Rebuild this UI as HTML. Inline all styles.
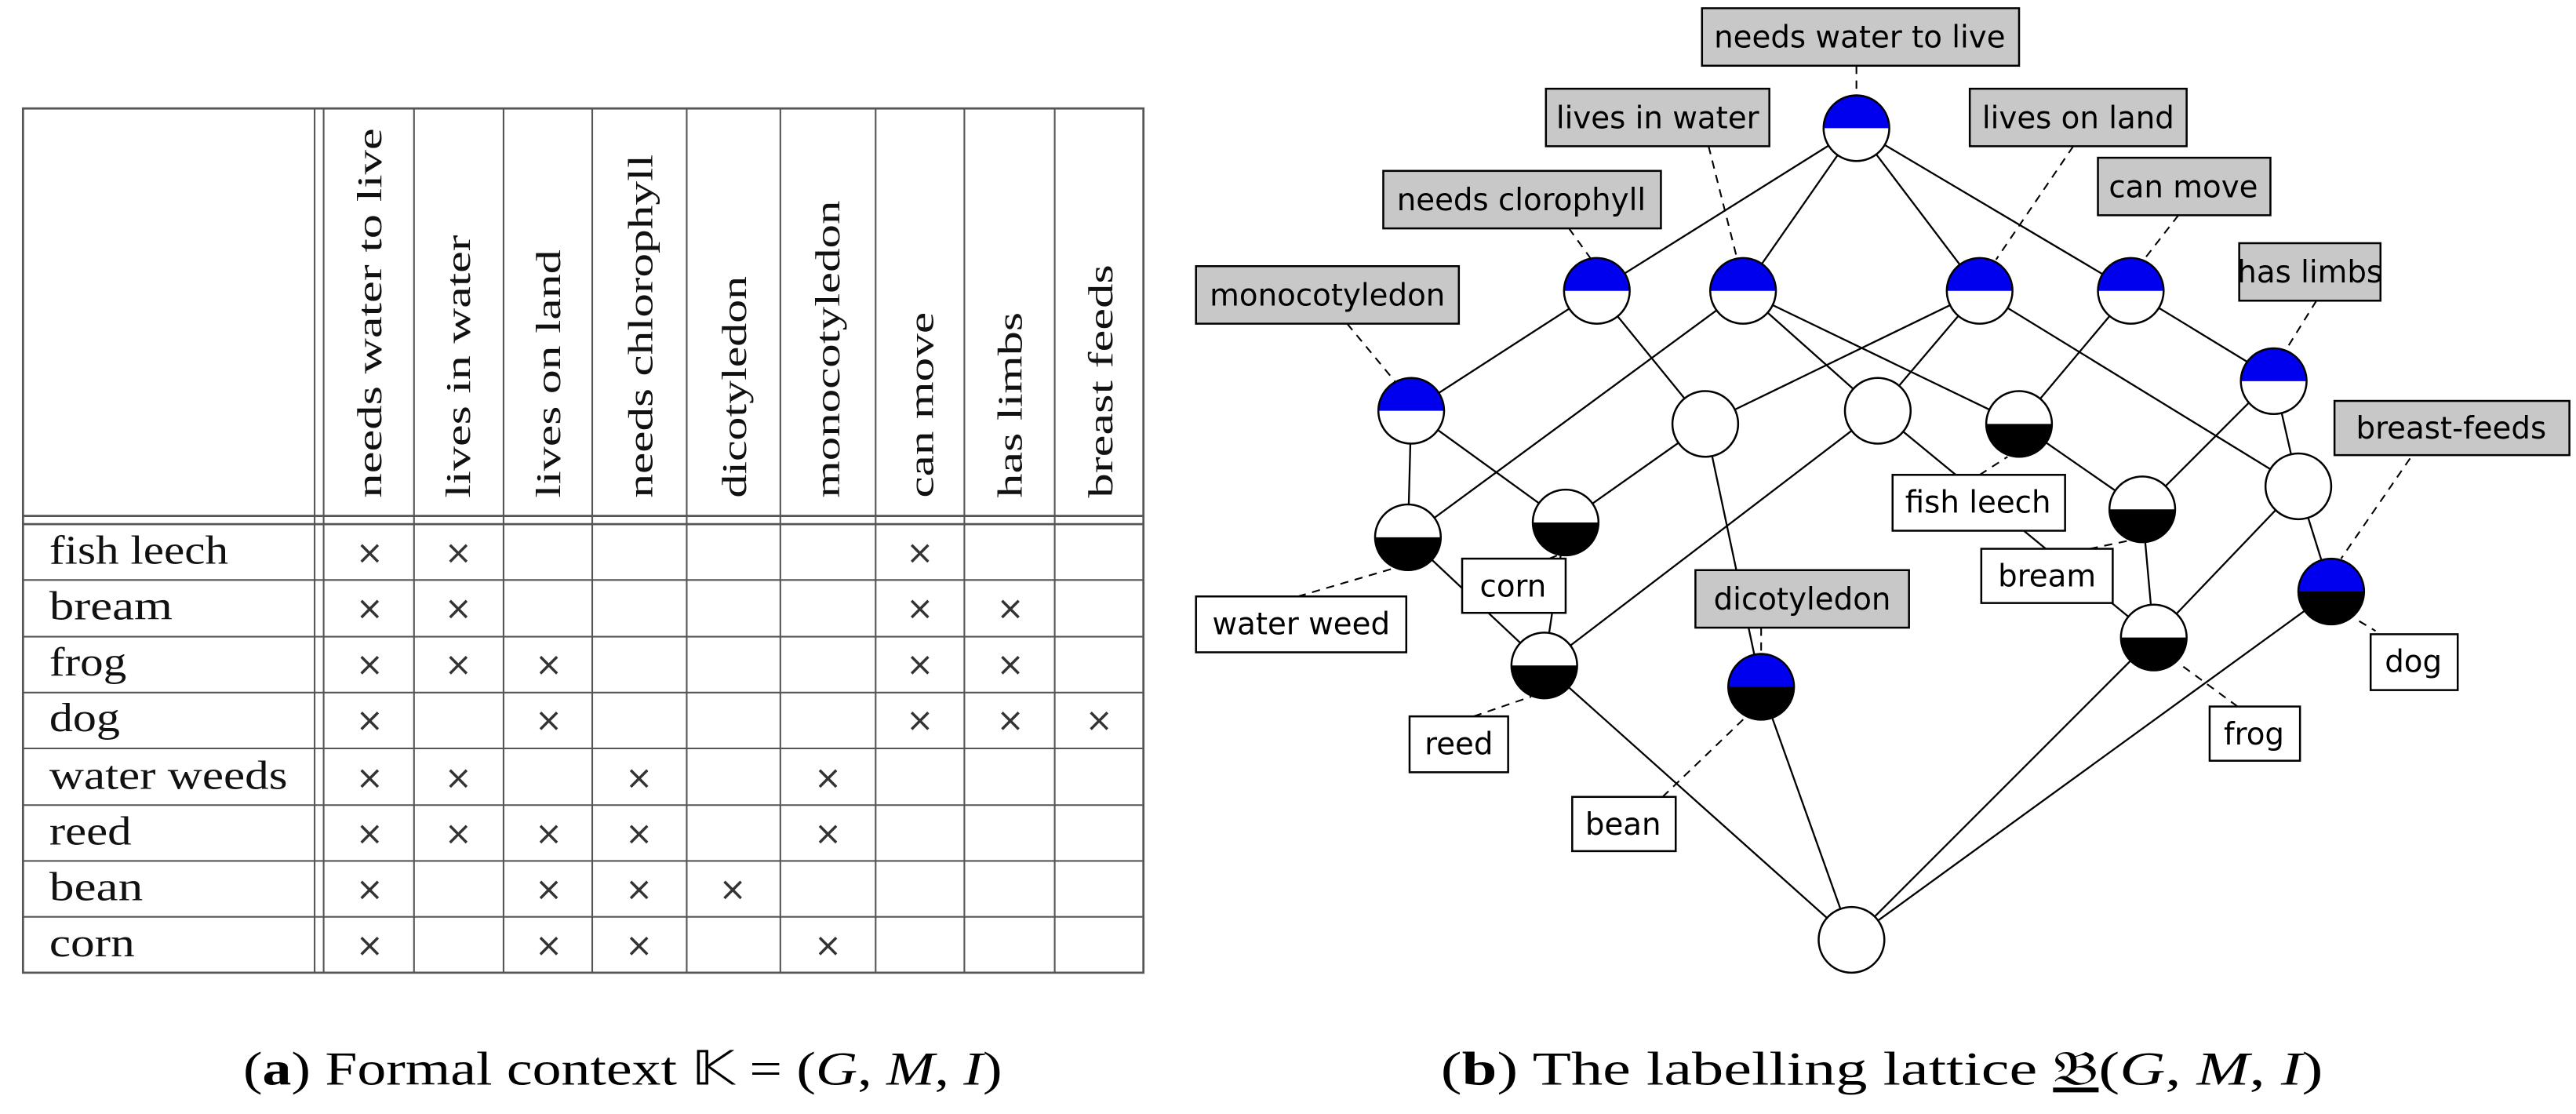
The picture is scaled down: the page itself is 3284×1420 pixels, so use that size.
<!DOCTYPE html>
<html><head><meta charset="utf-8"><style>
html,body{margin:0;padding:0;background:#fff;}
svg{display:block;}
.h{font-family:"Liberation Serif",serif;font-size:21px;fill:#111;}
.r{font-family:"Liberation Serif",serif;font-size:25px;fill:#111;}
.x{font-family:"DejaVu Sans",sans-serif;font-size:20px;fill:#333;text-anchor:middle;}
.l{font-family:"DejaVu Sans","Liberation Sans",sans-serif;font-size:18.5px;fill:#000;text-anchor:middle;}
.c{font-family:"Liberation Serif",serif;font-size:29px;fill:#000;}
</style></head><body>
<svg width="3284" height="1420" viewBox="0 0 1568 678" xmlns="http://www.w3.org/2000/svg">
<rect width="1568" height="678" fill="#fff"/>
<!-- table -->
<g stroke="#555" stroke-width="1" fill="none">
<rect x="14" y="66" width="682" height="526" stroke-width="1.3"/>
<line x1="14" y1="314" x2="696" y2="314" stroke-width="1.3"/>
<line x1="14" y1="319" x2="696" y2="319" stroke-width="1.3"/>
<line x1="191.5" y1="66" x2="191.5" y2="592"/>
<line x1="197" y1="66" x2="197" y2="592"/>
<line x1="252" y1="66" x2="252" y2="592"/>
<line x1="306.5" y1="66" x2="306.5" y2="592"/>
<line x1="360.5" y1="66" x2="360.5" y2="592"/>
<line x1="418" y1="66" x2="418" y2="592"/>
<line x1="475" y1="66" x2="475" y2="592"/>
<line x1="533" y1="66" x2="533" y2="592"/>
<line x1="587" y1="66" x2="587" y2="592"/>
<line x1="642" y1="66" x2="642" y2="592"/>
<line x1="14" y1="353" x2="696" y2="353"/>
<line x1="14" y1="387.5" x2="696" y2="387.5"/>
<line x1="14" y1="421.5" x2="696" y2="421.5"/>
<line x1="14" y1="455.5" x2="696" y2="455.5"/>
<line x1="14" y1="490" x2="696" y2="490"/>
<line x1="14" y1="524" x2="696" y2="524"/>
<line x1="14" y1="558" x2="696" y2="558"/>
</g>
<g class="h">
<text transform="translate(232,303) rotate(-90)" textLength="225" lengthAdjust="spacingAndGlyphs">needs water to live</text>
<text transform="translate(286,303) rotate(-90)" textLength="160" lengthAdjust="spacingAndGlyphs">lives in water</text>
<text transform="translate(341,303) rotate(-90)" textLength="151" lengthAdjust="spacingAndGlyphs">lives on land</text>
<text transform="translate(397,303) rotate(-90)" textLength="209" lengthAdjust="spacingAndGlyphs">needs chlorophyll</text>
<text transform="translate(454,303) rotate(-90)" textLength="135" lengthAdjust="spacingAndGlyphs">dicotyledon</text>
<text transform="translate(511,303) rotate(-90)" textLength="181" lengthAdjust="spacingAndGlyphs">monocotyledon</text>
<text transform="translate(568,303) rotate(-90)" textLength="113" lengthAdjust="spacingAndGlyphs">can move</text>
<text transform="translate(622,303) rotate(-90)" textLength="113" lengthAdjust="spacingAndGlyphs">has limbs</text>
<text transform="translate(677,303) rotate(-90)" textLength="142" lengthAdjust="spacingAndGlyphs">breast feeds</text>
</g>
<g class="r">
<text x="30" y="343" textLength="109" lengthAdjust="spacingAndGlyphs">fish leech</text>
<text x="30" y="377" textLength="75" lengthAdjust="spacingAndGlyphs">bream</text>
<text x="30" y="411" textLength="47" lengthAdjust="spacingAndGlyphs">frog</text>
<text x="30" y="445" textLength="43" lengthAdjust="spacingAndGlyphs">dog</text>
<text x="30" y="480" textLength="145" lengthAdjust="spacingAndGlyphs">water weeds</text>
<text x="30" y="514" textLength="50" lengthAdjust="spacingAndGlyphs">reed</text>
<text x="30" y="548" textLength="57" lengthAdjust="spacingAndGlyphs">bean</text>
<text x="30" y="582" textLength="52" lengthAdjust="spacingAndGlyphs">corn</text>
</g>
<g class="x">
<text x="225" y="343">×</text><text x="279" y="343">×</text><text x="560" y="343">×</text>
<text x="225" y="377">×</text><text x="279" y="377">×</text><text x="560" y="377">×</text><text x="615" y="377">×</text>
<text x="225" y="411">×</text><text x="279" y="411">×</text><text x="334" y="411">×</text><text x="560" y="411">×</text><text x="615" y="411">×</text>
<text x="225" y="445">×</text><text x="334" y="445">×</text><text x="560" y="445">×</text><text x="615" y="445">×</text><text x="669" y="445">×</text>
<text x="225" y="480">×</text><text x="279" y="480">×</text><text x="389" y="480">×</text><text x="504" y="480">×</text>
<text x="225" y="514">×</text><text x="279" y="514">×</text><text x="334" y="514">×</text><text x="389" y="514">×</text><text x="504" y="514">×</text>
<text x="225" y="548">×</text><text x="334" y="548">×</text><text x="389" y="548">×</text><text x="446" y="548">×</text>
<text x="225" y="582">×</text><text x="334" y="582">×</text><text x="389" y="582">×</text><text x="504" y="582">×</text>
</g>
<!-- captions -->
<text class="c" x="148" y="660" textLength="462" lengthAdjust="spacingAndGlyphs">(<tspan font-weight="bold">a</tspan>) Formal context 𝕂 = (<tspan font-style="italic">G</tspan>, <tspan font-style="italic">M</tspan>, <tspan font-style="italic">I</tspan>)</text>
<text class="c" x="877" y="660" textLength="537" lengthAdjust="spacingAndGlyphs">(<tspan font-weight="bold">b</tspan>) The labelling lattice <tspan text-decoration="underline">𝔅</tspan>(<tspan font-style="italic">G</tspan>, <tspan font-style="italic">M</tspan>, <tspan font-style="italic">I</tspan>)</text>
<!-- lattice edges -->
<g stroke="#000" stroke-width="1.1">
<line x1="1130" y1="78" x2="972" y2="177"/><line x1="1130" y1="78" x2="1061" y2="177"/>
<line x1="1130" y1="78" x2="1205" y2="177"/><line x1="1130" y1="78" x2="1297" y2="177"/>
<line x1="972" y1="177" x2="859" y2="250"/><line x1="972" y1="177" x2="1038" y2="258"/>
<line x1="1061" y1="177" x2="857" y2="327"/><line x1="1061" y1="177" x2="1143" y2="250"/><line x1="1061" y1="177" x2="1229" y2="258"/>
<line x1="1205" y1="177" x2="1038" y2="258"/><line x1="1205" y1="177" x2="1143" y2="250"/><line x1="1205" y1="177" x2="1399" y2="296"/>
<line x1="1297" y1="177" x2="1229" y2="258"/><line x1="1297" y1="177" x2="1384" y2="230"/>
<line x1="859" y1="250" x2="857" y2="327"/><line x1="859" y1="250" x2="953" y2="318"/>
<line x1="1038" y1="258" x2="953" y2="318"/><line x1="1038" y1="258" x2="1072" y2="418"/>
<line x1="1143" y1="250" x2="940" y2="405"/><line x1="1143" y1="250" x2="1311" y2="388"/>
<line x1="1229" y1="258" x2="1304" y2="310"/>
<line x1="1384" y1="230" x2="1304" y2="310"/><line x1="1384" y1="230" x2="1399" y2="296"/>
<line x1="857" y1="327" x2="940" y2="405"/><line x1="953" y1="318" x2="940" y2="405"/>
<line x1="1304" y1="310" x2="1311" y2="388"/>
<line x1="1399" y1="296" x2="1311" y2="388"/><line x1="1399" y1="296" x2="1419" y2="360"/>
<line x1="940" y1="405" x2="1127" y2="572"/><line x1="1072" y1="418" x2="1127" y2="572"/>
<line x1="1311" y1="388" x2="1127" y2="572"/><line x1="1419" y1="360" x2="1127" y2="572"/>
</g>
<!-- dashed label links -->
<g stroke="#000" stroke-width="1" stroke-dasharray="5,4">
<line x1="1130" y1="40" x2="1130" y2="57"/>
<line x1="1040" y1="89" x2="1057" y2="156"/>
<line x1="1262" y1="89" x2="1215" y2="158"/>
<line x1="955" y1="139" x2="968" y2="157"/>
<line x1="1326" y1="131" x2="1305" y2="158"/>
<line x1="820" y1="197" x2="849" y2="232"/>
<line x1="1410" y1="183" x2="1392" y2="212"/>
<line x1="1467" y1="279" x2="1425" y2="340"/>
<line x1="1072" y1="382" x2="1072" y2="397"/>
<line x1="790" y1="363" x2="848" y2="346"/>
<line x1="943" y1="340" x2="948" y2="338"/>
<line x1="1205" y1="289" x2="1222" y2="278"/>
<line x1="1272" y1="334" x2="1296" y2="329"/>
<line x1="1436" y1="378" x2="1446" y2="384"/>
<line x1="897" y1="436" x2="932" y2="424"/>
<line x1="1362" y1="430" x2="1328" y2="405"/>
<line x1="1012" y1="485" x2="1062" y2="437"/>
</g>
<!-- nodes -->
<defs>
<g id="bw"><circle r="20" fill="#fff"/><path d="M-20,0 A20,20 0 0 1 20,0 Z" fill="#0000ee"/><circle r="20" fill="none" stroke="#000" stroke-width="1.2"/></g>
<g id="wk"><circle r="20" fill="#fff"/><path d="M-20,0 A20,20 0 0 0 20,0 Z" fill="#000"/><circle r="20" fill="none" stroke="#000" stroke-width="1.2"/></g>
<g id="bk"><path d="M-20,0 A20,20 0 0 1 20,0 Z" fill="#0000ee"/><path d="M-20,0 A20,20 0 0 0 20,0 Z" fill="#000"/><circle r="20" fill="none" stroke="#000" stroke-width="1.2"/></g>
<g id="ww"><circle r="20" fill="#fff" stroke="#000" stroke-width="1.2"/></g>
</defs>
<use href="#bw" x="1130" y="78"/>
<use href="#bw" x="972" y="177"/><use href="#bw" x="1061" y="177"/><use href="#bw" x="1205" y="177"/><use href="#bw" x="1297" y="177"/>
<use href="#bw" x="859" y="250"/><use href="#bw" x="1384" y="232"/>
<use href="#ww" x="1038" y="258"/><use href="#ww" x="1143" y="250"/><use href="#wk" x="1229" y="258"/>
<use href="#ww" x="1399" y="296"/>
<use href="#wk" x="857" y="327"/><use href="#wk" x="953" y="318"/><use href="#wk" x="1304" y="310"/>
<use href="#bk" x="1419" y="360"/><use href="#wk" x="940" y="405"/><use href="#bk" x="1072" y="418"/><use href="#wk" x="1311" y="388"/>
<use href="#ww" x="1127" y="572"/>
<!-- labels -->
<g stroke="#000" stroke-width="1.2">
<rect x="1036" y="5" width="193" height="35" fill="#c8c8c8"/>
<rect x="941" y="54" width="136" height="35" fill="#c8c8c8"/>
<rect x="1199" y="54" width="132" height="35" fill="#c8c8c8"/>
<rect x="842" y="104" width="169" height="35" fill="#c8c8c8"/>
<rect x="1277" y="96" width="105" height="35" fill="#c8c8c8"/>
<rect x="728" y="162" width="160" height="35" fill="#c8c8c8"/>
<rect x="1363" y="148" width="86" height="35" fill="#c8c8c8"/>
<rect x="1421" y="244" width="143" height="33" fill="#c8c8c8"/>
<rect x="1032" y="347" width="130" height="35" fill="#c8c8c8"/>
<rect x="728" y="363" width="128" height="34" fill="#fff"/>
<rect x="890" y="340" width="63" height="33" fill="#fff"/>
<rect x="1152" y="289" width="105" height="34" fill="#fff"/>
<rect x="1206" y="334" width="80" height="33" fill="#fff"/>
<rect x="1443" y="386" width="53" height="34" fill="#fff"/>
<rect x="858" y="436" width="60" height="34" fill="#fff"/>
<rect x="1345" y="430" width="55" height="33" fill="#fff"/>
<rect x="957" y="485" width="63" height="33" fill="#fff"/>
</g>
<g class="l">
<text x="1132" y="29">needs water to live</text>
<text x="1009" y="78">lives in water</text>
<text x="1265" y="78">lives on land</text>
<text x="926" y="128">needs clorophyll</text>
<text x="1329" y="120">can move</text>
<text x="808" y="186">monocotyledon</text>
<text x="1406" y="172">has limbs</text>
<text x="1492" y="267">breast-feeds</text>
<text x="1097" y="371">dicotyledon</text>
<text x="792" y="386">water weed</text>
<text x="921" y="363">corn</text>
<text x="1204" y="312">fish leech</text>
<text x="1246" y="357">bream</text>
<text x="1469" y="409">dog</text>
<text x="888" y="459">reed</text>
<text x="1372" y="453">frog</text>
<text x="988" y="508">bean</text>
</g>
</svg>
</body></html>
